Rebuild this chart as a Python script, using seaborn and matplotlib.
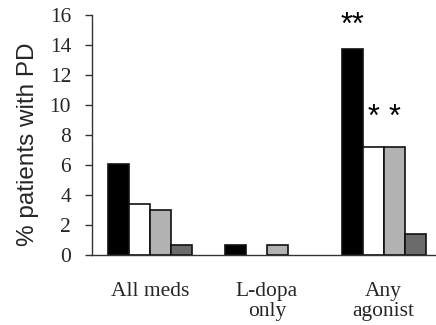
import numpy as np
import pandas as pd
import matplotlib
matplotlib.use("Agg")
import matplotlib.pyplot as plt
import seaborn as sns

# values (% patients with PD)
categories = ["All meds", "L-dopa\nonly", "Any\nagonist"]
groups = ["Group 1", "Group 2", "Group 3", "Group 4"]
group1 = [6.1, 0.7, 13.7]
group2 = [3.4, 0.0, 7.2]
group3 = [3.0, 0.7, 7.2]
group4 = [0.7, 0.0, 1.4]
yticks = [0, 2, 4, 6, 8, 10, 12, 14, 16]

# significance marks: (group index, category index, label)
marks = [(0, 2, "**"), (1, 2, "*"), (2, 2, "*")]

rows = []
for g, vals in zip(groups, [group1, group2, group3, group4]):
    for c, v in zip(categories, vals):
        rows.append({"category": c, "group": g, "pct": v})
df = pd.DataFrame(rows)

sns.set_style("white")
plt.rcParams["font.family"] = ["Liberation Serif", "DejaVu Serif"]

fig = plt.figure(figsize=(4.36, 3.25), dpi=100)
ax = fig.add_axes([0.211, 0.215, 0.789, 0.739])

palette = ["#000000", "#ffffff", "#b2b2b2", "#6b6b6b"]
sns.barplot(data=df, x="category", y="pct", hue="group", order=categories,
            hue_order=groups, palette=palette, edgecolor="#111111",
            linewidth=1.2, width=0.72, gap=0, legend=False, ax=ax)

# empty bars are not drawn in the original
for cont in ax.containers:
    for bar in cont:
        if bar.get_height() == 0:
            bar.set_visible(False)

ax.set_xlim(-0.5, 2.45)
ax.set_ylim(0, 16)
ax.set_yticks(yticks)
ax.set_yticklabels([str(t) for t in yticks], fontsize=15.5)

# category labels centred, ticks at the category boundaries
ax.set_xticks(range(len(categories)))
ax.set_xticklabels(categories, fontsize=15.5, linespacing=1.12)
ax.tick_params(axis="x", which="major", length=0, pad=19)
ax.set_xticks([-0.5, 0.5, 1.5], minor=True)
ax.tick_params(axis="x", which="minor", length=6, width=1, color="#333333",
               direction="out")
ax.tick_params(axis="y", length=5, width=1, color="#333333", direction="out",
               left=True, pad=10)

ax.set_xlabel("")
ax.set_ylabel("% patients with PD", fontsize=17.5, family="Liberation Sans")
ax.yaxis.set_label_coords(-0.155, 0.4625)

for side in ["top", "right"]:
    ax.spines[side].set_visible(False)
for side in ["left", "bottom"]:
    ax.spines[side].set_color("#333333")
    ax.spines[side].set_linewidth(1.0)

# asterisks above the significant bars
for gi, ci, lab in marks:
    bar = ax.containers[gi][ci]
    xc = bar.get_x() + bar.get_width() / 2
    top = bar.get_height()
    ax.annotate(lab, (xc, top), xytext=(0, 6 if gi == 0 else 10),
                textcoords="offset points", ha="center", va="bottom",
                fontsize=22, family="Liberation Sans", color="black")

fig.savefig("out.png", dpi=100)
